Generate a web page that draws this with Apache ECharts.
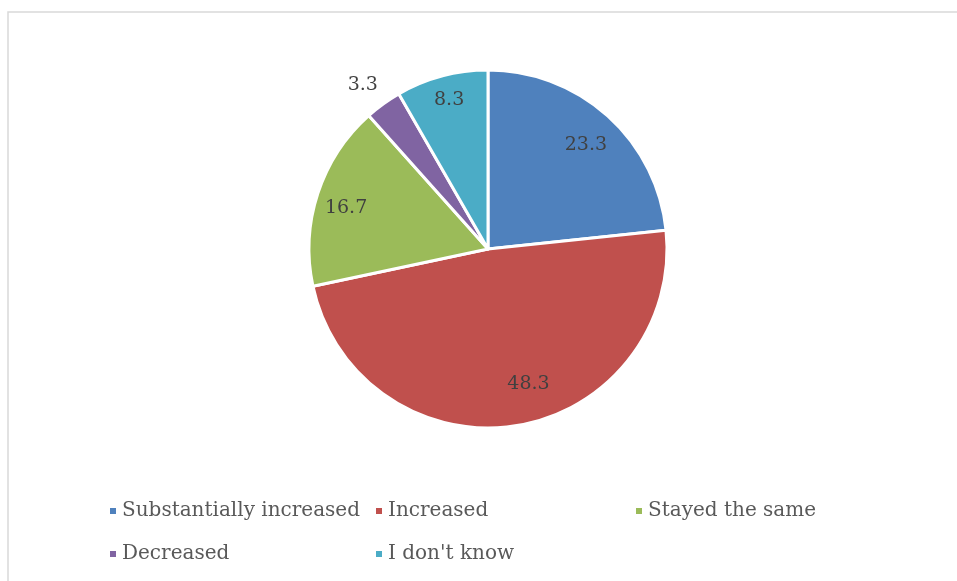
<!DOCTYPE html>
<html>
<head>
<meta charset="utf-8">
<script src="https://cdn.jsdelivr.net/npm/echarts@6/dist/echarts.min.js"></script>
<style>
html, body { margin: 0; padding: 0; background: #fff; }
#chart { width: 957px; height: 581px; }
</style>
</head>
<body>
<div id="chart"></div>
<script>
// answers, percent of respondents
const categories = ['Substantially increased', 'Increased', 'Stayed the same', 'Decreased', "I don't know"]
const values = [23.3, 48.3, 16.7, 3.3, 8.3]
const colors = ['#4f81bd', '#c0504d', '#9bbb59', '#8064a2', '#4bacc6']
// nudges so the labels sit where Excel put them
const labelOffsets = [[36, -35], [26, 44], [-54, -12], [-71, -89], [-15, -60]]

const font = 'DejaVu Serif'

let chart = echarts.init(document.getElementById('chart'))

let legendStyle = {
    orient: 'vertical',
    top: 496,
    itemGap: 23,
    itemWidth: 8,
    itemHeight: 8,
    icon: 'rect',
    textStyle: { fontFamily: font, fontSize: 20, color: '#595959' }
}

chart.setOption({
    animation: false,
    color: colors,
    graphic: [{
        type: 'rect',
        shape: { x: 8, y: 12, width: 1000, height: 1000 },
        style: { fill: 'none', stroke: '#d9d9d9', lineWidth: 1.5 },
        silent: true
    }],
    legend: [
        Object.assign({ left: 103, data: [categories[0], categories[3]] }, legendStyle),
        Object.assign({ left: 369, data: [categories[1], categories[4]] }, legendStyle),
        Object.assign({ left: 629, data: [categories[2]] }, legendStyle)
    ],
    series: [{
        type: 'pie',
        center: [488, 249],
        radius: 179,
        startAngle: 90,
        clockwise: true,
        silent: true,
        itemStyle: { borderColor: '#fff', borderWidth: 3 },
        label: {
            position: 'inside',
            fontFamily: font,
            fontSize: 19,
            color: '#404040'
        },
        labelLine: { show: false },
        data: categories.map((name, i) => ({
            name: name,
            value: values[i],
            label: { offset: labelOffsets[i], formatter: String(values[i]) }
        }))
    }]
})
</script>
</body>
</html>
